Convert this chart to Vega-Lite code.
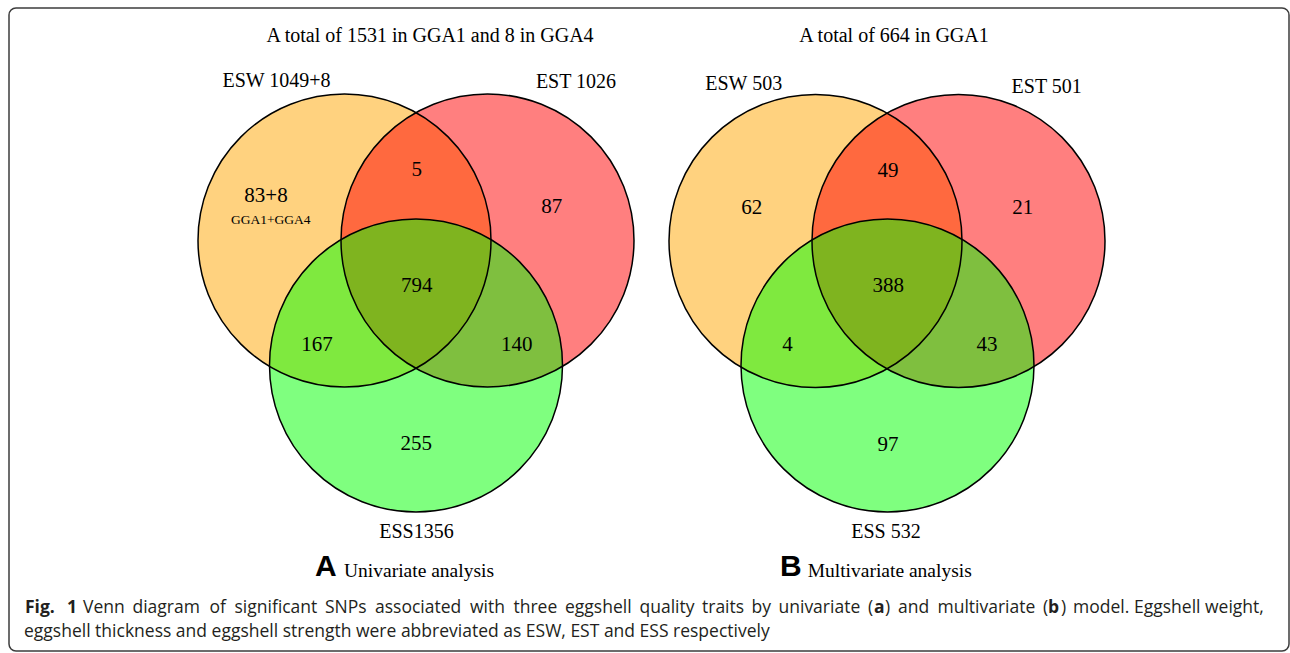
{
  "$schema": "https://vega.github.io/schema/vega-lite/v6.json",
  "autosize": {"type": "none"},
  "padding": {"left": 9, "top": 8, "right": 1, "bottom": 2},
  "width": 1280,
  "height": 643,
  "background": "white",
  "config": {
    "view": {"stroke": "#3c3c3c", "strokeWidth": 1.5, "cornerRadius": 7}
  },
  "datasets": {
    "circles": [
      {"panel": "A", "set": "ESW", "cx": 344.5, "cy": 240.5},
      {"panel": "A", "set": "EST", "cx": 487.5, "cy": 240.5},
      {"panel": "A", "set": "ESS", "cx": 416, "cy": 365.5},
      {"panel": "B", "set": "ESW", "cx": 815.5, "cy": 241},
      {"panel": "B", "set": "EST", "cx": 958.5, "cy": 241},
      {"panel": "B", "set": "ESS", "cx": 887.5, "cy": 365.5}
    ],
    "texts": [
      {"kind": "count", "panel": "A", "text": "5", "x": 416.7, "y": 176},
      {"kind": "count", "panel": "A", "text": "83+8", "x": 266, "y": 201.5},
      {"kind": "note", "panel": "A", "text": "GGA1+GGA4", "x": 270.7, "y": 224},
      {"kind": "count", "panel": "A", "text": "87", "x": 551.7, "y": 213},
      {"kind": "count", "panel": "A", "text": "794", "x": 416.7, "y": 291.5},
      {"kind": "count", "panel": "A", "text": "167", "x": 317, "y": 350.5},
      {"kind": "count", "panel": "A", "text": "140", "x": 516.7, "y": 350.5},
      {"kind": "count", "panel": "A", "text": "255", "x": 416.3, "y": 450},
      {"kind": "label", "panel": "A", "text": "A total of 1531 in GGA1 and 8 in GGA4", "x": 430, "y": 42},
      {"kind": "label", "panel": "A", "text": "ESW 1049+8", "x": 276.5, "y": 87},
      {"kind": "label", "panel": "A", "text": "EST 1026", "x": 576, "y": 88},
      {"kind": "label", "panel": "A", "text": "ESS1356", "x": 416.5, "y": 538},
      {"kind": "letter", "panel": "A", "text": "A", "x": 315, "y": 576},
      {"kind": "subtitle", "panel": "A", "text": "Univariate analysis", "x": 344, "y": 577},
      {"kind": "count", "panel": "B", "text": "49", "x": 888, "y": 176.5},
      {"kind": "count", "panel": "B", "text": "62", "x": 751.7, "y": 214},
      {"kind": "count", "panel": "B", "text": "21", "x": 1022.8, "y": 214},
      {"kind": "count", "panel": "B", "text": "388", "x": 888.3, "y": 292},
      {"kind": "count", "panel": "B", "text": "4", "x": 787.5, "y": 350.5},
      {"kind": "count", "panel": "B", "text": "43", "x": 987, "y": 351},
      {"kind": "count", "panel": "B", "text": "97", "x": 888, "y": 450.5},
      {"kind": "label", "panel": "B", "text": "A total of 664 in GGA1", "x": 894, "y": 42},
      {"kind": "label", "panel": "B", "text": "ESW 503", "x": 743.7, "y": 90},
      {"kind": "label", "panel": "B", "text": "EST 501", "x": 1046.7, "y": 93},
      {"kind": "label", "panel": "B", "text": "ESS 532", "x": 886, "y": 538},
      {"kind": "letter", "panel": "B", "text": "B", "x": 780, "y": 576},
      {"kind": "subtitle", "panel": "B", "text": "Multivariate analysis", "x": 807.7, "y": 577}
    ],
    "caption": [
      {"weight": "bold", "text": "Fig.", "x": 25, "y": 613},
      {"weight": "bold", "text": "1", "x": 67, "y": 613},
      {"weight": "normal", "text": "Venn", "x": 83, "y": 613},
      {"weight": "normal", "text": "diagram", "x": 132.5, "y": 613},
      {"weight": "normal", "text": "of", "x": 209.5, "y": 613},
      {"weight": "normal", "text": "significant", "x": 234.5, "y": 613},
      {"weight": "normal", "text": "SNPs", "x": 325, "y": 613},
      {"weight": "normal", "text": "associated", "x": 375, "y": 613},
      {"weight": "normal", "text": "with", "x": 470, "y": 613},
      {"weight": "normal", "text": "three", "x": 513.5, "y": 613},
      {"weight": "normal", "text": "eggshell", "x": 565, "y": 613},
      {"weight": "normal", "text": "quality", "x": 639.5, "y": 613},
      {"weight": "normal", "text": "traits", "x": 702, "y": 613},
      {"weight": "normal", "text": "by", "x": 751.5, "y": 613},
      {"weight": "normal", "text": "univariate", "x": 778.5, "y": 613},
      {"weight": "normal", "text": "(", "x": 868, "y": 613},
      {"weight": "bold", "text": "a", "x": 874, "y": 613},
      {"weight": "normal", "text": ")", "x": 885, "y": 613},
      {"weight": "normal", "text": "and", "x": 898, "y": 613},
      {"weight": "normal", "text": "multivariate", "x": 937.5, "y": 613},
      {"weight": "normal", "text": "(", "x": 1043, "y": 613},
      {"weight": "bold", "text": "b", "x": 1048, "y": 613},
      {"weight": "normal", "text": ")", "x": 1061, "y": 613},
      {"weight": "normal", "text": "model.", "x": 1073, "y": 613},
      {"weight": "normal", "text": "Eggshell", "x": 1134, "y": 613},
      {"weight": "normal", "text": "weight,", "x": 1205, "y": 613},
      {"weight": "normal", "text": "eggshell thickness and eggshell strength were abbreviated as ESW, EST and ESS respectively", "x": 24, "y": 637}
    ]
  },
  "layer": [
    {
      "data": {"name": "circles"},
      "mark": {"type": "point", "shape": "circle", "filled": true, "size": 85849, "fillOpacity": 0.5, "strokeWidth": 0, "opacity": 1},
      "encoding": {
        "x": {"field": "cx", "type": "quantitative", "scale": {"domain": [9, 1289], "nice": false, "zero": false}, "axis": null},
        "y": {"field": "cy", "type": "quantitative", "scale": {"domain": [8, 651], "nice": false, "zero": false, "reverse": true}, "axis": null},
        "color": {"field": "set", "type": "nominal", "scale": {"domain": ["ESW", "EST", "ESS"], "range": ["#FFA500", "#FF0000", "#00FF00"]}, "legend": null}
      }
    },
    {
      "data": {"name": "circles"},
      "mark": {"type": "point", "shape": "circle", "filled": false, "size": 85849, "stroke": "#000000", "strokeWidth": 1.5, "opacity": 1},
      "encoding": {
        "x": {"field": "cx", "type": "quantitative"},
        "y": {"field": "cy", "type": "quantitative"}
      }
    },
    {
      "data": {"name": "texts"},
      "transform": [{"filter": "datum.kind === 'count'"}],
      "mark": {"type": "text", "font": "Liberation Serif", "fontSize": 21, "align": "center", "baseline": "alphabetic", "color": "#000000"},
      "encoding": {
        "x": {"field": "x", "type": "quantitative"},
        "y": {"field": "y", "type": "quantitative"},
        "text": {"field": "text"}
      }
    },
    {
      "data": {"name": "texts"},
      "transform": [{"filter": "datum.kind === 'note'"}],
      "mark": {"type": "text", "font": "Liberation Serif", "fontSize": 13.5, "align": "center", "baseline": "alphabetic", "color": "#000000"},
      "encoding": {
        "x": {"field": "x", "type": "quantitative"},
        "y": {"field": "y", "type": "quantitative"},
        "text": {"field": "text"}
      }
    },
    {
      "data": {"name": "texts"},
      "transform": [{"filter": "datum.kind === 'label'"}],
      "mark": {"type": "text", "font": "Liberation Serif", "fontSize": 20, "align": "center", "baseline": "alphabetic", "color": "#000000"},
      "encoding": {
        "x": {"field": "x", "type": "quantitative"},
        "y": {"field": "y", "type": "quantitative"},
        "text": {"field": "text"}
      }
    },
    {
      "data": {"name": "texts"},
      "transform": [{"filter": "datum.kind === 'letter'"}],
      "mark": {"type": "text", "font": "Liberation Sans", "fontWeight": "bold", "fontSize": 30, "align": "left", "baseline": "alphabetic", "color": "#000000"},
      "encoding": {
        "x": {"field": "x", "type": "quantitative"},
        "y": {"field": "y", "type": "quantitative"},
        "text": {"field": "text"}
      }
    },
    {
      "data": {"name": "texts"},
      "transform": [{"filter": "datum.kind === 'subtitle'"}],
      "mark": {"type": "text", "font": "Liberation Serif", "fontSize": 19.5, "align": "left", "baseline": "alphabetic", "color": "#000000"},
      "encoding": {
        "x": {"field": "x", "type": "quantitative"},
        "y": {"field": "y", "type": "quantitative"},
        "text": {"field": "text"}
      }
    },
    {
      "data": {"name": "caption"},
      "transform": [{"filter": "datum.weight === 'normal'"}],
      "mark": {"type": "text", "font": "Open Sans", "fontSize": 17.5, "align": "left", "baseline": "alphabetic", "color": "#231f20"},
      "encoding": {
        "x": {"field": "x", "type": "quantitative"},
        "y": {"field": "y", "type": "quantitative"},
        "text": {"field": "text"}
      }
    },
    {
      "data": {"name": "caption"},
      "transform": [{"filter": "datum.weight === 'bold'"}],
      "mark": {"type": "text", "font": "Open Sans", "fontWeight": "bold", "fontSize": 17.5, "align": "left", "baseline": "alphabetic", "color": "#231f20"},
      "encoding": {
        "x": {"field": "x", "type": "quantitative"},
        "y": {"field": "y", "type": "quantitative"},
        "text": {"field": "text"}
      }
    }
  ]
}
